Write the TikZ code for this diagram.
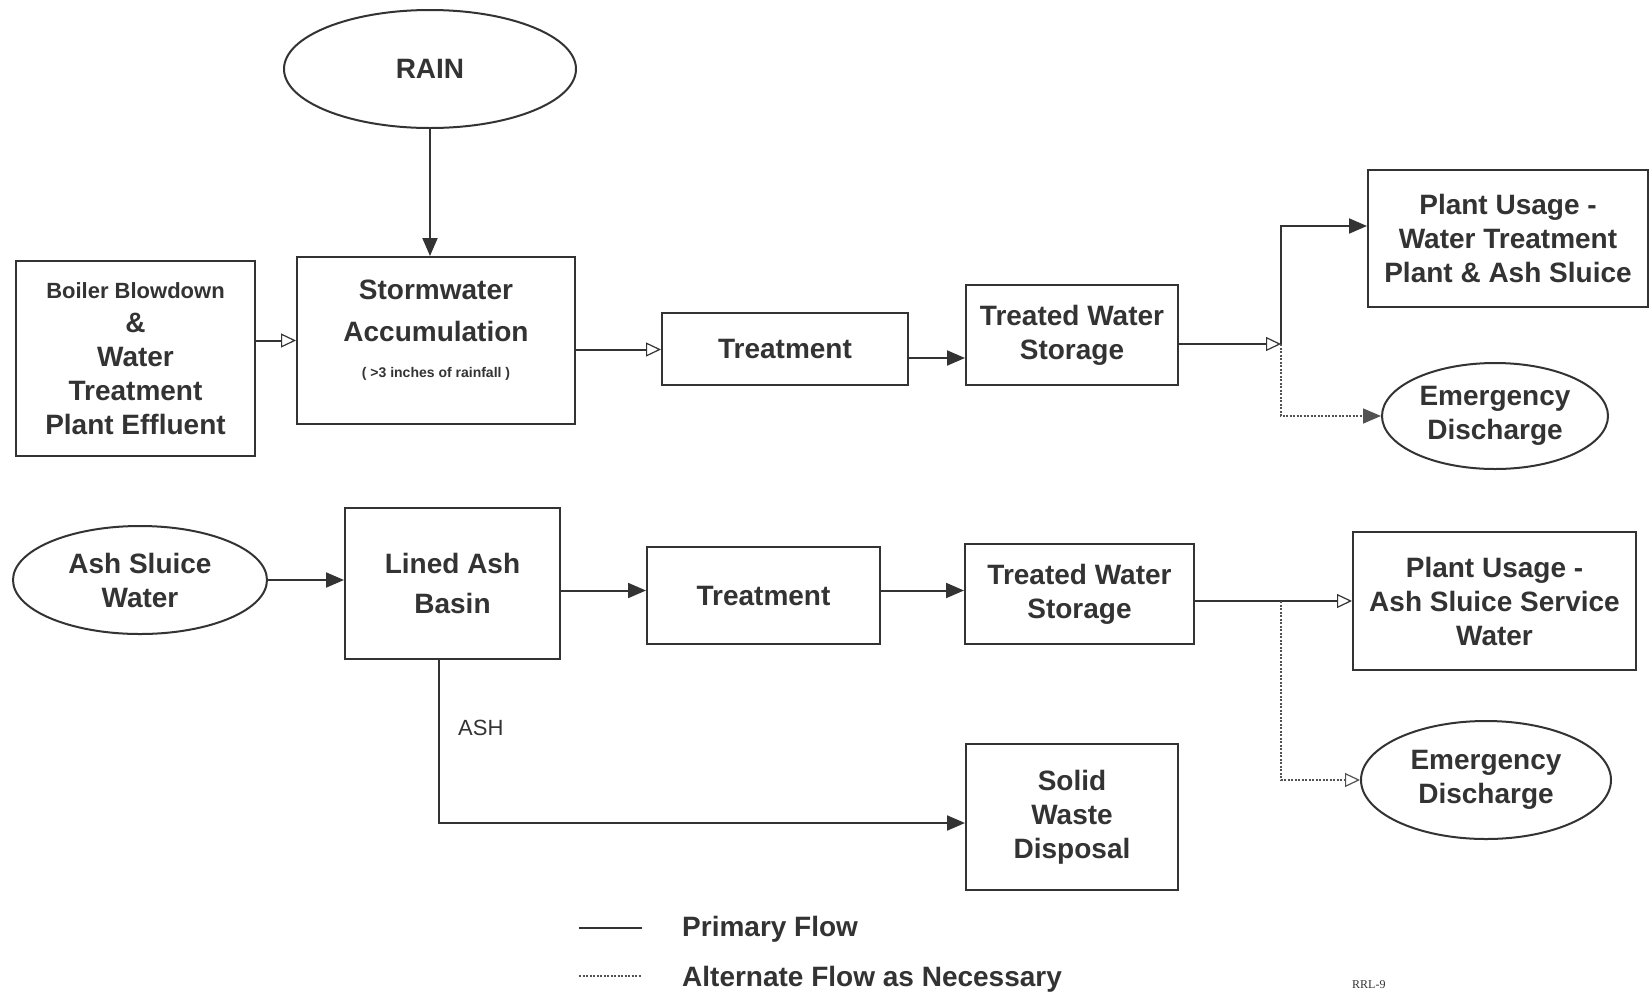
\documentclass[tikz,border=0pt]{standalone}
\usepackage{fontspec}
\setmainfont{Liberation Sans}
\usetikzlibrary{arrows.meta,shapes.geometric}
\definecolor{ink}{HTML}{333333}
\begin{document}
\begin{tikzpicture}[x=1pt,y=-1pt,
  box/.style={draw=ink, line width=2pt, fill=white, text=ink,
    font=\bfseries\fontsize{28}{34}\selectfont, align=center, inner sep=0pt},
  oval/.style={box, ellipse},
  txt/.style={text=ink, font=\bfseries\fontsize{28}{34}\selectfont, align=center, inner sep=0pt},
  flow/.style={draw=ink, line width=2pt},
  alt/.style={draw=ink!85, line width=1.5pt, dash pattern=on 2pt off 1.5pt},
  fa/.style={-{Triangle[length=18pt,width=15pt]}},
  oa/.style={-{Triangle[open,length=15pt,width=14pt,line width=1.2pt]}}
]
\useasboundingbox (0,0) rectangle (1650,994);
\fill[white] (0,0) rectangle (1650,994);

% top row
\node[oval, minimum width=292pt, minimum height=118pt] (rain) at (430,69) {RAIN};
\node[box, minimum width=239pt, minimum height=195pt] (boiler) at (135.5,358.5)
  {{\fontsize{22}{34}\selectfont Boiler Blowdown}\\\&\\Water\\Treatment\\Plant Effluent};
\node[box, minimum width=278pt, minimum height=167pt] (storm) at (436,340.5) {};
\node[txt] (stormtxt) at (436,330) {Stormwater\\[8pt]Accumulation\\[2pt]{\fontsize{14}{16}\selectfont ( >3 inches of rainfall )}};
\node[box, minimum width=246pt, minimum height=72pt] (treatT) at (785,349) {Treatment};
\node[box, minimum width=212pt, minimum height=100pt] (twsT) at (1072,335) {Treated Water\\Storage};
\node[box, minimum width=280pt, minimum height=137pt] (puT) at (1508,238.5) {Plant Usage -\\Water Treatment\\Plant \& Ash Sluice};
\node[oval, minimum width=226pt, minimum height=106pt] (edT) at (1495,416) {Emergency\\Discharge};

% bottom row
\node[oval, minimum width=254pt, minimum height=108pt] (asw) at (140,580) {Ash Sluice\\Water};
\node[box, minimum width=215pt, minimum height=151pt] (lab) at (452.5,583.5) {Lined Ash\\[6pt]Basin};
\node[box, minimum width=233pt, minimum height=97pt] (treatB) at (763.5,595.5) {Treatment};
\node[box, minimum width=229pt, minimum height=100pt] (twsB) at (1079.5,594) {Treated Water\\Storage};
\node[box, minimum width=283pt, minimum height=138pt] (puB) at (1494.5,601) {Plant Usage -\\Ash Sluice Service\\Water};
\node[oval, minimum width=250pt, minimum height=118pt] (edB) at (1486,780) {Emergency\\Discharge};
\node[box, minimum width=212pt, minimum height=146pt] (swd) at (1072,817) {Solid\\Waste\\Disposal};

% connectors top
\draw[flow,fa] (rain.south) -- (rain.south |- storm.north);
\draw[flow,oa] (boiler.east |- storm.west) -- (storm.west);
\draw[flow,oa] ([yshift=-9pt]storm.east) -- ([yshift=-9pt]storm.east -| treatT.west);
\draw[flow,fa] ([yshift=-9pt]treatT.east) -- ([yshift=-9pt]treatT.east -| twsT.west);
\coordinate (fT) at (1281,344);
\coordinate (fT1) at (1281,226);
\draw[flow,oa] (twsT.east |- fT) -- (fT);
\draw[flow,fa] (fT) -- (fT1) -- (fT1 -| puT.west);
\draw[alt,fa] (fT) -- (fT |- edT.west) -- (edT.west);

% connectors bottom
\draw[flow,fa] (asw.east) -- (asw.east -| lab.west);
\coordinate (tBw) at ([yshift=5pt]treatB.west);
\draw[flow,fa] (lab.east |- tBw) -- (tBw);
\draw[flow,fa] (treatB.east |- tBw) -- (tBw -| twsB.west);
\draw[flow,oa] (twsB.east |- puB.west) -- (puB.west);
\coordinate (fB) at (1281,601);
\draw[alt,oa] (fB) -- (fB |- edB.west) -- (edB.west);
\coordinate (ashc) at (439,823);
\draw[flow,fa] (lab.south -| ashc) -- (ashc) -- (ashc -| swd.west);
\node[text=ink, font=\fontsize{22}{26}\selectfont, anchor=west, inner sep=0pt] (ash) at (458,728) {ASH};

% legend
\coordinate (l1a) at (579,928);
\coordinate (l1b) at (642,928);
\coordinate (l2a) at (579,976);
\coordinate (l2b) at (642,976);
\draw[flow] (l1a) -- (l1b);
\draw[alt] (l2a) -- (l2b);
\node[txt, anchor=west] (lg1) at (682,929) {Primary Flow};
\node[txt, anchor=west] (lg2) at (682,979) {Alternate Flow as Necessary};
\node[text=ink, font=\fontspec{Liberation Serif}\fontsize{12}{14}\selectfont, anchor=west, inner sep=0pt] (rrl) at (1352,985) {RRL-9};
\end{tikzpicture}
\end{document}
